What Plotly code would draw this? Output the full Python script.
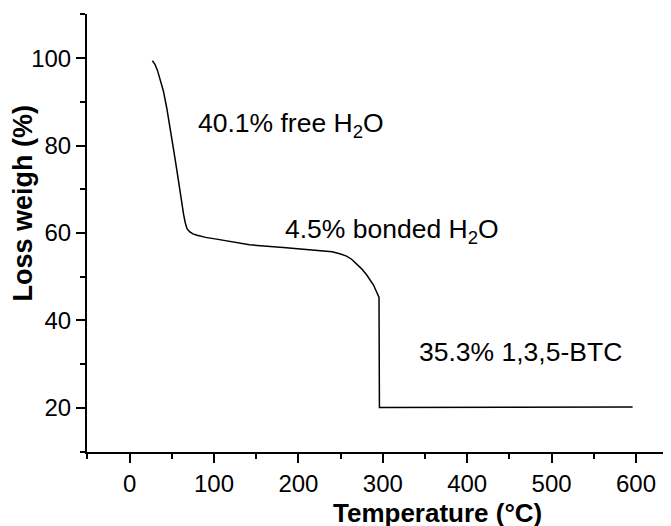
import plotly.graph_objects as go

# Data
temperature = [27, 30, 33, 36, 40, 44, 48, 52, 56, 59, 62, 64, 66, 68, 71, 75, 80,
               90, 103, 120, 142, 182, 222, 240, 250, 257, 263, 269, 275, 281, 285,
               289, 292, 294, 295.5, 296, 350, 450, 596]
loss_weight = [99.4, 98.6, 97.2, 95.3, 92.5, 88.6, 84.2, 79.2, 74.3, 70.2, 66.7,
               64.2, 62.3, 61.0, 60.3, 59.8, 59.5, 59.0, 58.6, 58.0, 57.3, 56.7,
               56.1, 55.7, 55.2, 54.7, 54.0, 53.0, 51.8, 50.4, 49.3, 48.1, 46.8,
               45.8, 45.3, 20.1, 20.1, 20.1, 20.2]

label_texts = ["40.1% free H<sub>2</sub>O", "4.5% bonded H<sub>2</sub>O", "35.3% 1,3,5-BTC"]
label_x = [79, 182, 341]
label_y = [84.8, 60.4, 32.8]

x_tickvals = [0, 100, 200, 300, 400, 500, 600]
y_tickvals = [20, 40, 60, 80, 100]

FONT = "Liberation Sans, Arial, sans-serif"

fig = go.Figure()
fig.add_trace(go.Scatter(x=temperature, y=loss_weight, mode="lines",
                         line=dict(color="black", width=1.5), showlegend=False))

for t, x, y in zip(label_texts, label_x, label_y):
    fig.add_annotation(x=x, y=y, xref="x", yref="y", text=t, showarrow=False,
                       xanchor="left", yanchor="middle",
                       font=dict(family=FONT, size=26.5, color="black"))

fig.add_annotation(x=0.600, y=-0.139, xref="paper", yref="paper",
                   text="<b>Temperature (°C)</b>", showarrow=False,
                   xanchor="center", yanchor="middle",
                   font=dict(family=FONT, size=26, color="black"))
fig.add_annotation(x=-0.1096, y=0.5696, xref="paper", yref="paper",
                   text="<b>Loss weigh (%)</b>", showarrow=False, textangle=-90,
                   xanchor="center", yanchor="middle",
                   font=dict(family=FONT, size=27, color="black"))

axis_common = dict(showline=True, linewidth=2, linecolor="black", ticks="outside",
                   ticklen=9, tickwidth=2, tickcolor="black", showgrid=False,
                   zeroline=False, tickfont=dict(family=FONT, size=24, color="black"))

fig.update_xaxes(range=[-50.5, 641.5], tickvals=x_tickvals,
                 minor=dict(ticks="outside", ticklen=5, tickwidth=2, tickcolor="black",
                            dtick=50, tick0=0, showgrid=False),
                 **axis_common)
fig.update_yaxes(range=[9.9, 110.1], tickvals=y_tickvals,
                 minor=dict(ticks="outside", ticklen=5, tickwidth=2, tickcolor="black",
                            dtick=10, tick0=0, showgrid=False),
                 **axis_common)

fig.update_layout(width=663, height=518, margin=dict(l=79, r=0, t=6, b=74),
                  plot_bgcolor="white", paper_bgcolor="white",
                  font=dict(family=FONT, color="black"))

fig.write_html("out.html")
